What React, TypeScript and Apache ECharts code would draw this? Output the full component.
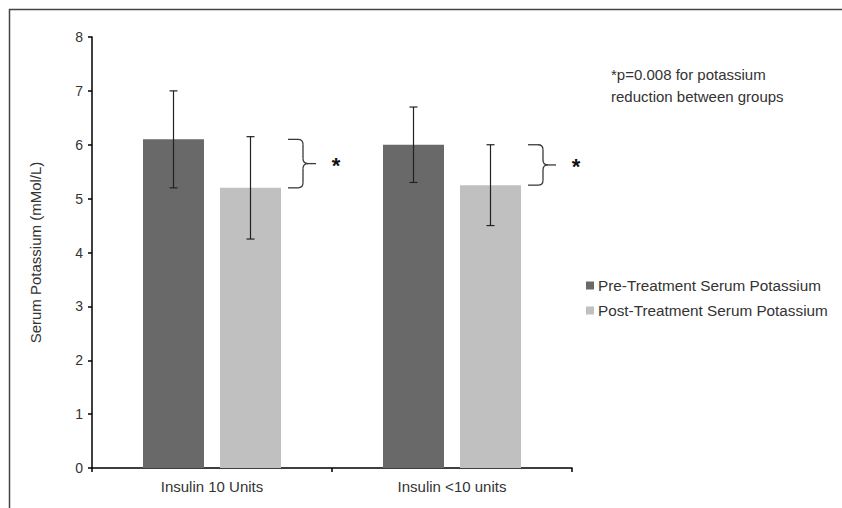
import React, { useEffect, useRef } from "react";
import * as echarts from "echarts";

const categories = ["Insulin 10 Units", "Insulin <10 units"];
const seriesNames = ["Pre-Treatment Serum Potassium", "Post-Treatment Serum Potassium"];
const preValues = [6.1, 6.0];
const postValues = [5.2, 5.25];
const preErrors = [0.9, 0.7];
const postErrors = [0.95, 0.75];
const noteLines = ["*p=0.008 for potassium", "reduction between groups"];
const yAxisName = "Serum Potassium (mMol/L)";

const FONT = "'Liberation Sans', Arial, sans-serif";
const BAR_W = 61;
const BAR_GAP = 16;
const HALF = (BAR_W + BAR_GAP) / 2;

export default function App() {
  const ref = useRef<HTMLDivElement>(null);
  useEffect(() => {
    if (!ref.current) return;
    const chart = echarts.init(ref.current, undefined, { renderer: "svg" });

    const errData: number[][] = [];
    categories.forEach((_, i) => {
      errData.push([i, preValues[i] - preErrors[i], preValues[i] + preErrors[i], -1]);
      errData.push([i, postValues[i] - postErrors[i], postValues[i] + postErrors[i], 1]);
    });
    const braceData = categories.map((_, i) => [i, preValues[i], postValues[i]]);

    const stroke = { stroke: "#3a3a3a", lineWidth: 1.3, fill: null as any };

    chart.setOption({
      animation: false,
      backgroundColor: "#fff",
      grid: { left: 92, right: 270, top: 37, bottom: 40 },
      legend: {
        data: seriesNames,
        orient: "vertical",
        left: 581,
        top: 273,
        itemWidth: 8,
        itemHeight: 8,
        itemGap: 10,
        icon: "rect",
        textStyle: { fontFamily: FONT, fontSize: 15.3, color: "#333", padding: [0, 0, 0, -1] },
      },
      xAxis: {
        type: "category",
        data: categories,
        axisLine: { lineStyle: { color: "#000", width: 1.5 } },
        axisTick: { show: true, length: 4, lineStyle: { color: "#000", width: 1.5 } },
        axisLabel: { fontFamily: FONT, fontSize: 15, color: "#333", margin: 11 },
      },
      yAxis: {
        type: "value",
        min: 0,
        max: 8,
        interval: 1,
        name: yAxisName,
        nameLocation: "middle",
        nameGap: 49,
        nameTextStyle: { fontFamily: FONT, fontSize: 15, color: "#333" },
        splitLine: { show: false },
        axisLine: { show: true, lineStyle: { color: "#000", width: 1.5 } },
        axisTick: { show: true, length: 4, lineStyle: { color: "#000", width: 1.5 } },
        axisLabel: { fontFamily: FONT, fontSize: 14, color: "#333", margin: 9 },
      },
      series: [
        {
          name: seriesNames[0],
          type: "bar",
          data: preValues,
          barWidth: BAR_W,
          barGap: (BAR_GAP / BAR_W) * 100 + "%",
          itemStyle: { color: "#696969" },
        },
        {
          name: seriesNames[1],
          type: "bar",
          data: postValues,
          barWidth: BAR_W,
          itemStyle: { color: "#c0c0c0" },
        },
        {
          type: "custom",
          name: "err",
          z: 10,
          clip: false,
          data: errData,
          renderItem: (params: any, api: any) => {
            const lo = api.coord([api.value(0), api.value(1)]);
            const hi = api.coord([api.value(0), api.value(2)]);
            const x = lo[0] + api.value(3) * HALF;
            const cap = 4;
            const s = { stroke: "#222", lineWidth: 1.2 };
            return {
              type: "group",
              children: [
                { type: "line", shape: { x1: x, y1: lo[1], x2: x, y2: hi[1] }, style: s },
                { type: "line", shape: { x1: x - cap, y1: lo[1], x2: x + cap, y2: lo[1] }, style: s },
                { type: "line", shape: { x1: x - cap, y1: hi[1], x2: x + cap, y2: hi[1] }, style: s },
              ],
            };
          },
        },
        {
          type: "custom",
          name: "brace",
          z: 10,
          clip: false,
          data: braceData,
          renderItem: (params: any, api: any) => {
            const top = api.coord([api.value(0), api.value(1)]);
            const bot = api.coord([api.value(0), api.value(2)]);
            const x0 = top[0] + HALF + BAR_W / 2 + 7;
            const x1 = x0 + 15;
            const yT = top[1];
            const yB = bot[1];
            const yM = (yT + yB) / 2;
            const r = 5;
            const tip = x1 + 13;
            return {
              type: "group",
              children: [
                { type: "line", shape: { x1: x0, y1: yT, x2: x1 - r, y2: yT }, style: stroke },
                { type: "bezierCurve", shape: { x1: x1 - r, y1: yT, cpx1: x1, cpy1: yT, x2: x1, y2: yT + r }, style: stroke },
                { type: "line", shape: { x1: x1, y1: yT + r, x2: x1, y2: yM - r }, style: stroke },
                { type: "bezierCurve", shape: { x1: x1, y1: yM - r, cpx1: x1, cpy1: yM, x2: x1 + r, y2: yM }, style: stroke },
                { type: "line", shape: { x1: x1 + r, y1: yM, x2: tip, y2: yM }, style: stroke },
                { type: "bezierCurve", shape: { x1: x1, y1: yM + r, cpx1: x1, cpy1: yM, x2: x1 + r, y2: yM }, style: stroke },
                { type: "line", shape: { x1: x1, y1: yM + r, x2: x1, y2: yB - r }, style: stroke },
                { type: "bezierCurve", shape: { x1: x1, y1: yB - r, cpx1: x1, cpy1: yB, x2: x1 - r, y2: yB }, style: stroke },
                { type: "line", shape: { x1: x1 - r, y1: yB, x2: x0, y2: yB }, style: stroke },
                {
                  type: "text",
                  x: tip + 20,
                  y: yM + 2,
                  style: {
                    text: "*",
                    fontFamily: FONT,
                    fontSize: 22,
                    fontWeight: "bold",
                    fill: "#111",
                    align: "center",
                    verticalAlign: "middle",
                  },
                },
              ],
            };
          },
        },
      ],
      graphic: [
        {
          type: "line",
          shape: { x1: 9, y1: 9.5, x2: 842, y2: 9.5 },
          style: { stroke: "#444", lineWidth: 1.5 },
        },
        {
          type: "line",
          shape: { x1: 9.5, y1: 9, x2: 9.5, y2: 508 },
          style: { stroke: "#444", lineWidth: 1.5 },
        },
        {
          type: "text",
          left: 611,
          top: 63,
          style: {
            text: noteLines.join("\n"),
            fontFamily: FONT,
            fontSize: 15,
            lineHeight: 22,
            fill: "#333",
          },
        },
      ],
    });
    return () => chart.dispose();
  }, []);
  return (
    <div
      ref={ref}
      style={{ position: "fixed", left: 0, top: 0, width: 842, height: 508 }}
    />
  );
}
